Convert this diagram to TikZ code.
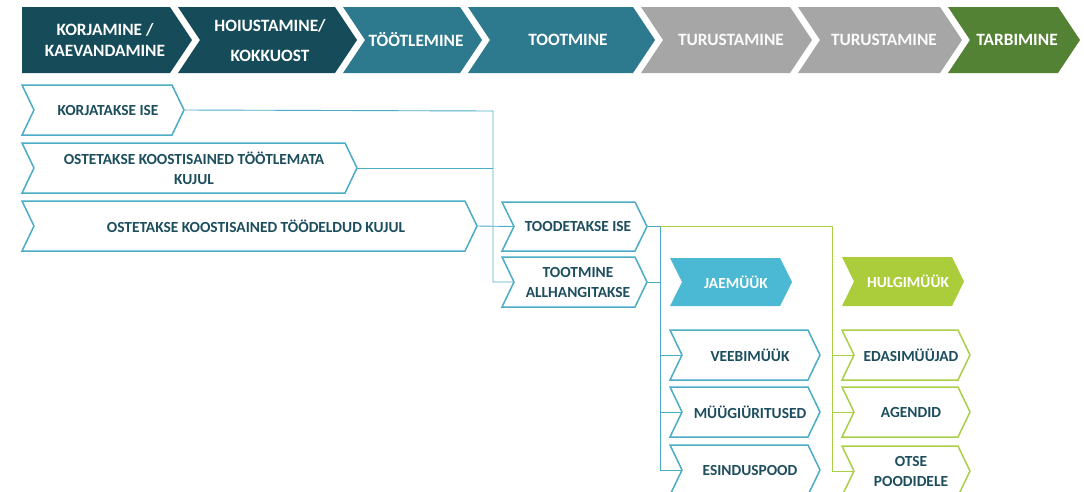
\documentclass[tikz,border=0pt]{standalone}
\usepackage{fontspec}
\setmainfont{Carlito}
\definecolor{cDark}{HTML}{164B5A}
\definecolor{cTeal}{HTML}{2D7A8F}
\definecolor{cGray}{HTML}{A6A6A6}
\definecolor{cDGreen}{HTML}{548235}
\definecolor{cJae}{HTML}{4BB8D4}
\definecolor{cHulg}{HTML}{ABCD3C}
\definecolor{cBlue}{HTML}{4BACC6}
\definecolor{cGreen}{HTML}{AACF47}
\definecolor{cText}{HTML}{1D4E5E}
\newcommand\chev[9]{%
  \path[#7box] (#2,#3) -- (#4,#3) -- ({#4+#6},{(#3+#5)/2}) -- (#4,#5) -- (#2,#5) -- ({#2+#6},{(#3+#5)/2}) -- cycle;
  \coordinate (#1-in) at ({#2+#6},{(#3+#5)/2});
  \coordinate (#1-out) at ({#4+#6},{(#3+#5)/2});
  \node[#7text] (#1) at (#8,{(#3+#5)/2}) {#9};}
\tikzset{
  darkbox/.style={fill=cDark},
  tealbox/.style={fill=cTeal},
  graybox/.style={fill=cGray},
  dgreenbox/.style={fill=cDGreen},
  jaebox/.style={fill=cJae},
  hulgbox/.style={fill=cHulg},
  bluebox/.style={draw=cBlue, line width=1.5pt, fill=white, line join=miter},
  greenbox/.style={draw=cGreen, line width=1.5pt, fill=white, line join=miter},
  toptext/.style={text=white, font=\fontsize{17.3}{21}\selectfont\bfseries, align=center, inner sep=0pt},
  darktext/.style={toptext}, tealtext/.style={toptext}, dgreentext/.style={toptext},
  graytext/.style={toptext, text=white!95!cGray},
  jaetext/.style={text=white, font=\fontsize{15.4}{20}\selectfont\bfseries, inner sep=0pt},
  hulgtext/.style={jaetext},
  bluetext/.style={text=cText, font=\fontsize{15.4}{20}\selectfont\bfseries, align=center, inner sep=0pt},
  greentext/.style={bluetext},
  bline/.style={draw=cBlue, line width=0.9pt},
  gline/.style={draw=cGreen, line width=0.9pt},
}
\begin{document}
\begin{tikzpicture}[x=1pt, y=-1pt]
\useasboundingbox (0,0) rectangle (1084,491);
% top row
\path[darkbox] (22,7) -- (170,7) -- (192,40) -- (170,73) -- (22,73) -- cycle;
\node[toptext] (korj) at (105,40) {KORJAMINE /\\KAEVANDAMINE};
\chev{hoiu}{178}{7}{335}{73}{22}{dark}{270}{HOIUSTAMINE/\\[9pt]KOKKUOST}
\chev{tootl}{343}{7}{460}{73}{22}{teal}{416}{TÖÖTLEMINE}
\chev{tootm}{468}{7}{633}{73}{22}{teal}{568}{TOOTMINE}
\chev{turu1}{641}{7}{790}{73}{22}{gray}{731}{TURUSTAMINE}
\chev{turu2}{798}{7}{940}{73}{22}{gray}{884}{TURUSTAMINE}
\chev{tarb}{948}{7}{1058}{73}{22}{dgreen}{1017}{TARBIMINE}
% left column
\chev{kor}{22}{85}{172}{135}{12}{blue}{108}{KORJATAKSE ISE}
\chev{ostl}{22}{143}{345}{193}{12}{blue}{194}{OSTETAKSE KOOSTISAINED TÖÖTLEMATA\\KUJUL}
\chev{ostd}{22}{201}{465}{251}{12}{blue}{256}{OSTETAKSE KOOSTISAINED TÖÖDELDUD KUJUL}
% production
\chev{tood}{502}{202}{635}{251}{12}{blue}{578}{TOODETAKSE ISE}
\chev{allh}{502}{257}{635}{307}{12}{blue}{578}{TOOTMINE\\ALLHANGITAKSE}
% sales headers
\chev{jae}{670}{258}{780}{306}{12}{jae}{736}{JAEMÜÜK}
\chev{hulg}{842}{257}{952}{306}{12}{hulg}{908}{HULGIMÜÜK}
% retail
\chev{veeb}{670}{330}{808}{380}{12}{blue}{750}{VEEBIMÜÜK}
\chev{myyg}{670}{387}{808}{437}{12}{blue}{750}{MÜÜGIÜRITUSED}
\chev{esin}{670}{445}{808}{495}{12}{blue}{750}{ESINDUSPOOD}
% wholesale
\chev{edas}{842}{330}{958}{380}{12}{green}{911}{EDASIMÜÜJAD}
\chev{agen}{842}{387}{958}{437}{12}{green}{911}{AGENDID}
\chev{otse}{842}{446}{958}{496}{12}{green}{911}{OTSE\\POODIDELE}
% connectors
\coordinate (j1) at (493,111);
\coordinate (j3) at (660,226.5);
\coordinate (j4) at (832,226.5);
\draw[bline] (kor-out) -- (j1) -- (j1 |- allh-in) -- (allh-in);
\draw[bline] (ostl-out) -- (ostl-out -| j1);
\draw[bline] (ostd-out) -- (tood-in);
\draw[bline] (tood-out) -- (j3) -- (j3 |- esin-in) -- (esin-in);
\draw[bline] (allh-out) -- (allh-out -| j3);
\draw[bline] (veeb-in -| j3) -- (veeb-in);
\draw[bline] (myyg-in -| j3) -- (myyg-in);
\draw[gline] (j3) -- (j4) -- (j4 |- otse-in) -- (otse-in);
\draw[gline] (edas-in -| j4) -- (edas-in);
\draw[gline] (agen-in -| j4) -- (agen-in);
\end{tikzpicture}
\end{document}
